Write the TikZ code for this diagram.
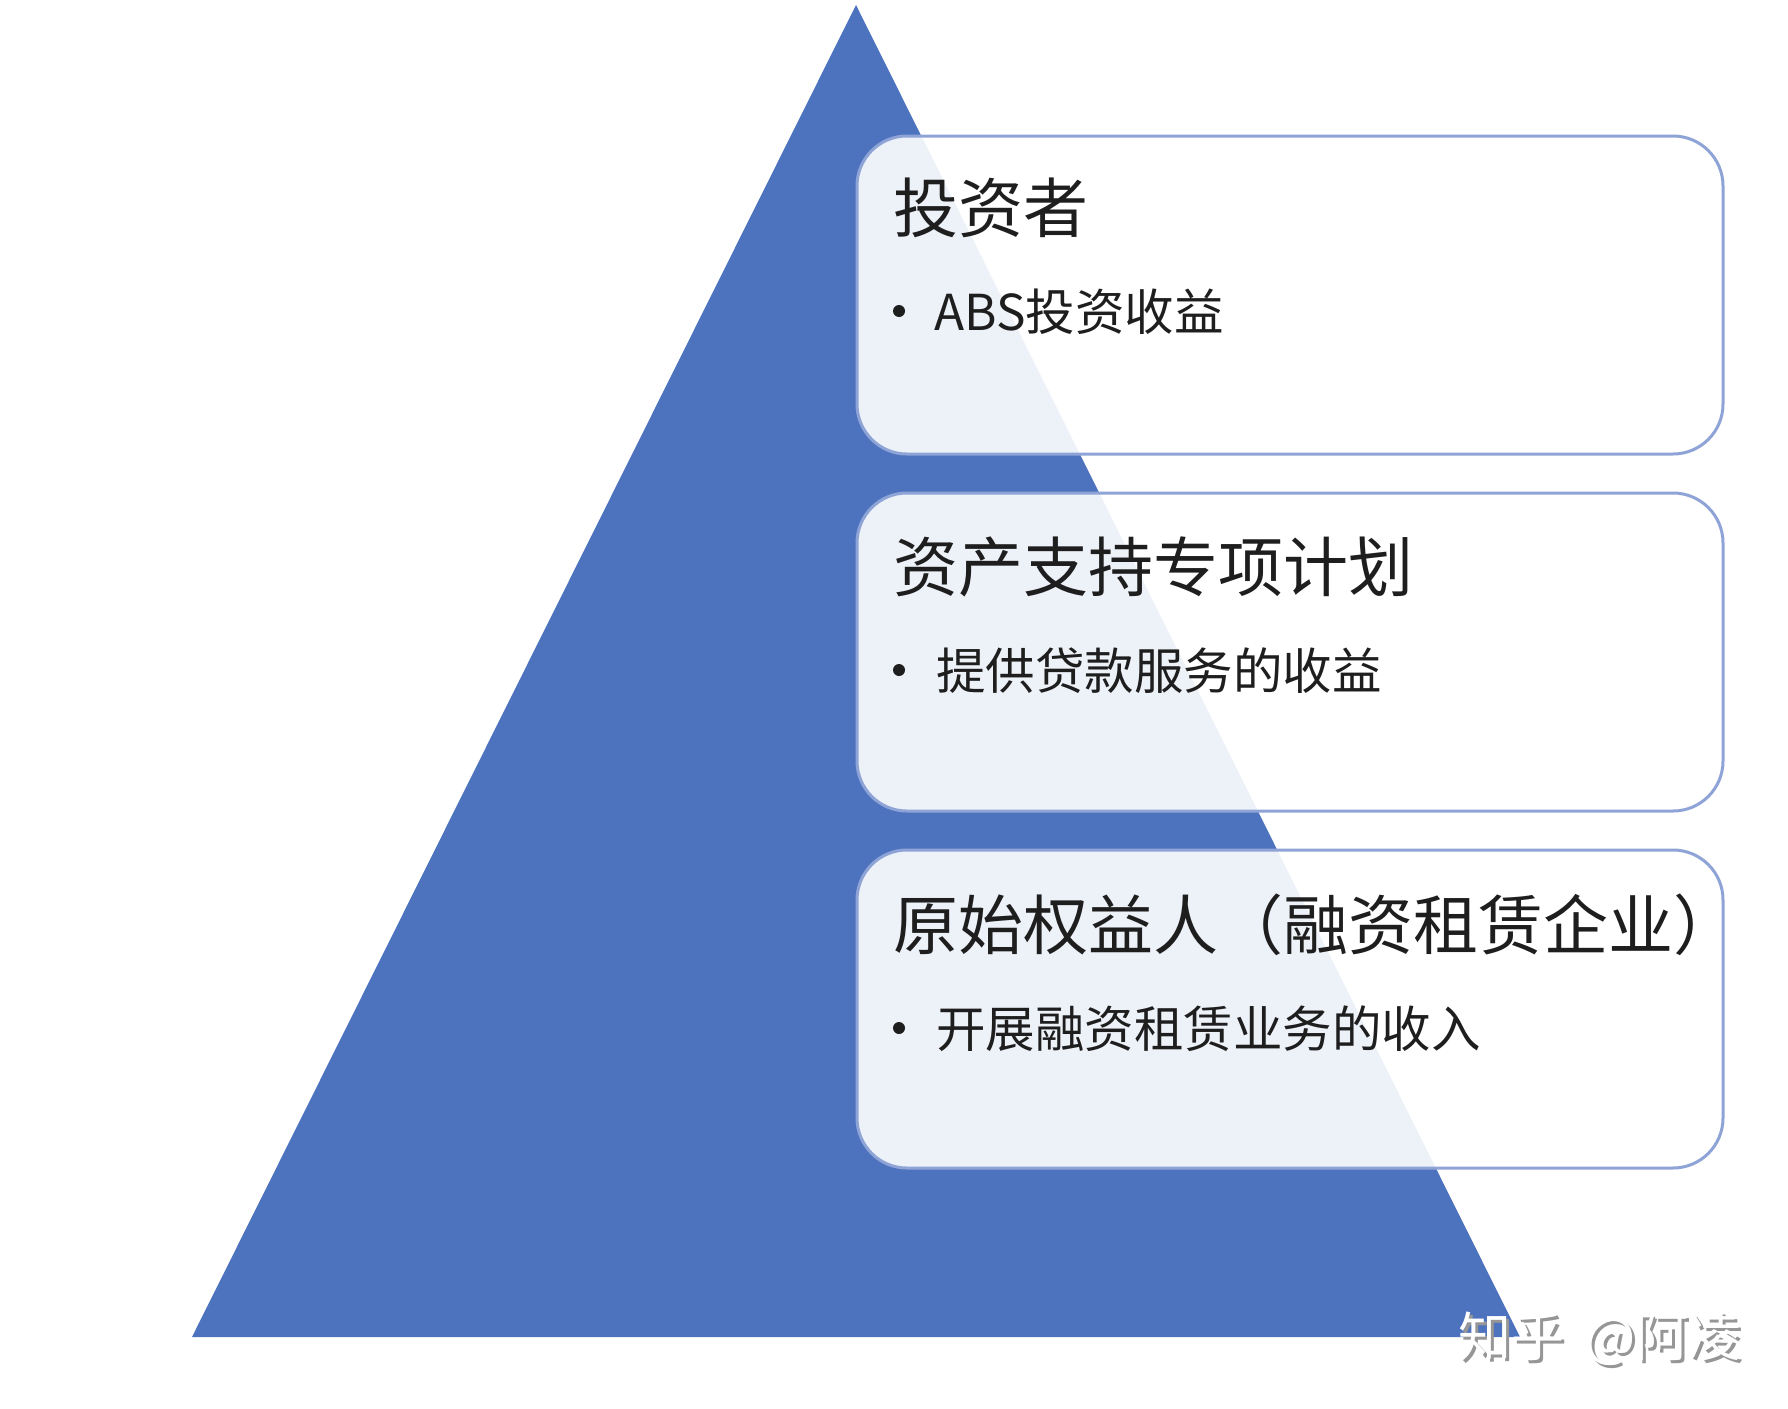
\documentclass[tikz,border=0pt]{standalone}
\usepackage{fontspec}
\setmainfont{Noto Sans CJK SC}
\definecolor{triblue}{RGB}{78,115,190}
\definecolor{boxline}{RGB}{143,164,214}
\definecolor{txt}{RGB}{30,30,30}
\definecolor{wmshadow}{RGB}{150,150,150}
\tikzset{
  card/.style={draw=boxline, line width=3pt, fill=white, fill opacity=0.9, draw opacity=1,
    rounded corners=50pt, minimum width=866pt, minimum height=318pt, inner sep=0pt},
  titletext/.style={anchor=base west, inner sep=0pt, text=txt, font=\fontsize{65pt}{78pt}\selectfont},
  itemtext/.style={anchor=base west, inner sep=0pt, text=txt, font=\fontsize{49.5pt}{59pt}\selectfont},
  wmtext/.style={anchor=base west, inner sep=0pt, font=\fontsize{53pt}{63pt}\selectfont}
}
\begin{document}
\begin{tikzpicture}[x=1pt,y=-1pt]
\useasboundingbox (0,0) rectangle (1788,1408);
\fill[white] (0,0) rectangle (1788,1408);
% pyramid
\fill[triblue] (856,5) -- (192,1337) -- (1520,1337) -- cycle;
% cards
\node[card] (c1) at (1290,295) {};
\node[card] (c2) at (1290,652) {};
\node[card] (c3) at (1290,1009) {};
% texts
\node[titletext] (t1) at (893,232) {投资者};
\fill[txt] (899,311) circle[radius=6pt];
\node[itemtext] (i1) at (934,330) {ABS投资收益};
\node[titletext] (t2) at (893,591) {资产支持专项计划};
\fill[txt] (899,670) circle[radius=6pt];
\node[itemtext] (i2) at (936,689) {提供贷款服务的收益};
\node[titletext] (t3) at (893,949) {原始权益人（融资租赁企业）};
\fill[txt] (899,1028) circle[radius=6pt];
\node[itemtext] (i3) at (936,1047) {开展融资租赁业务的收入};
% watermark
\node[wmtext, text=wmshadow] (wms) at (1461,1359) {知乎\hspace{0.4em}@阿凌};
\node[wmtext, text=white] (wm) at (1458,1356) {知乎\hspace{0.4em}@阿凌};
\end{tikzpicture}
\end{document}
